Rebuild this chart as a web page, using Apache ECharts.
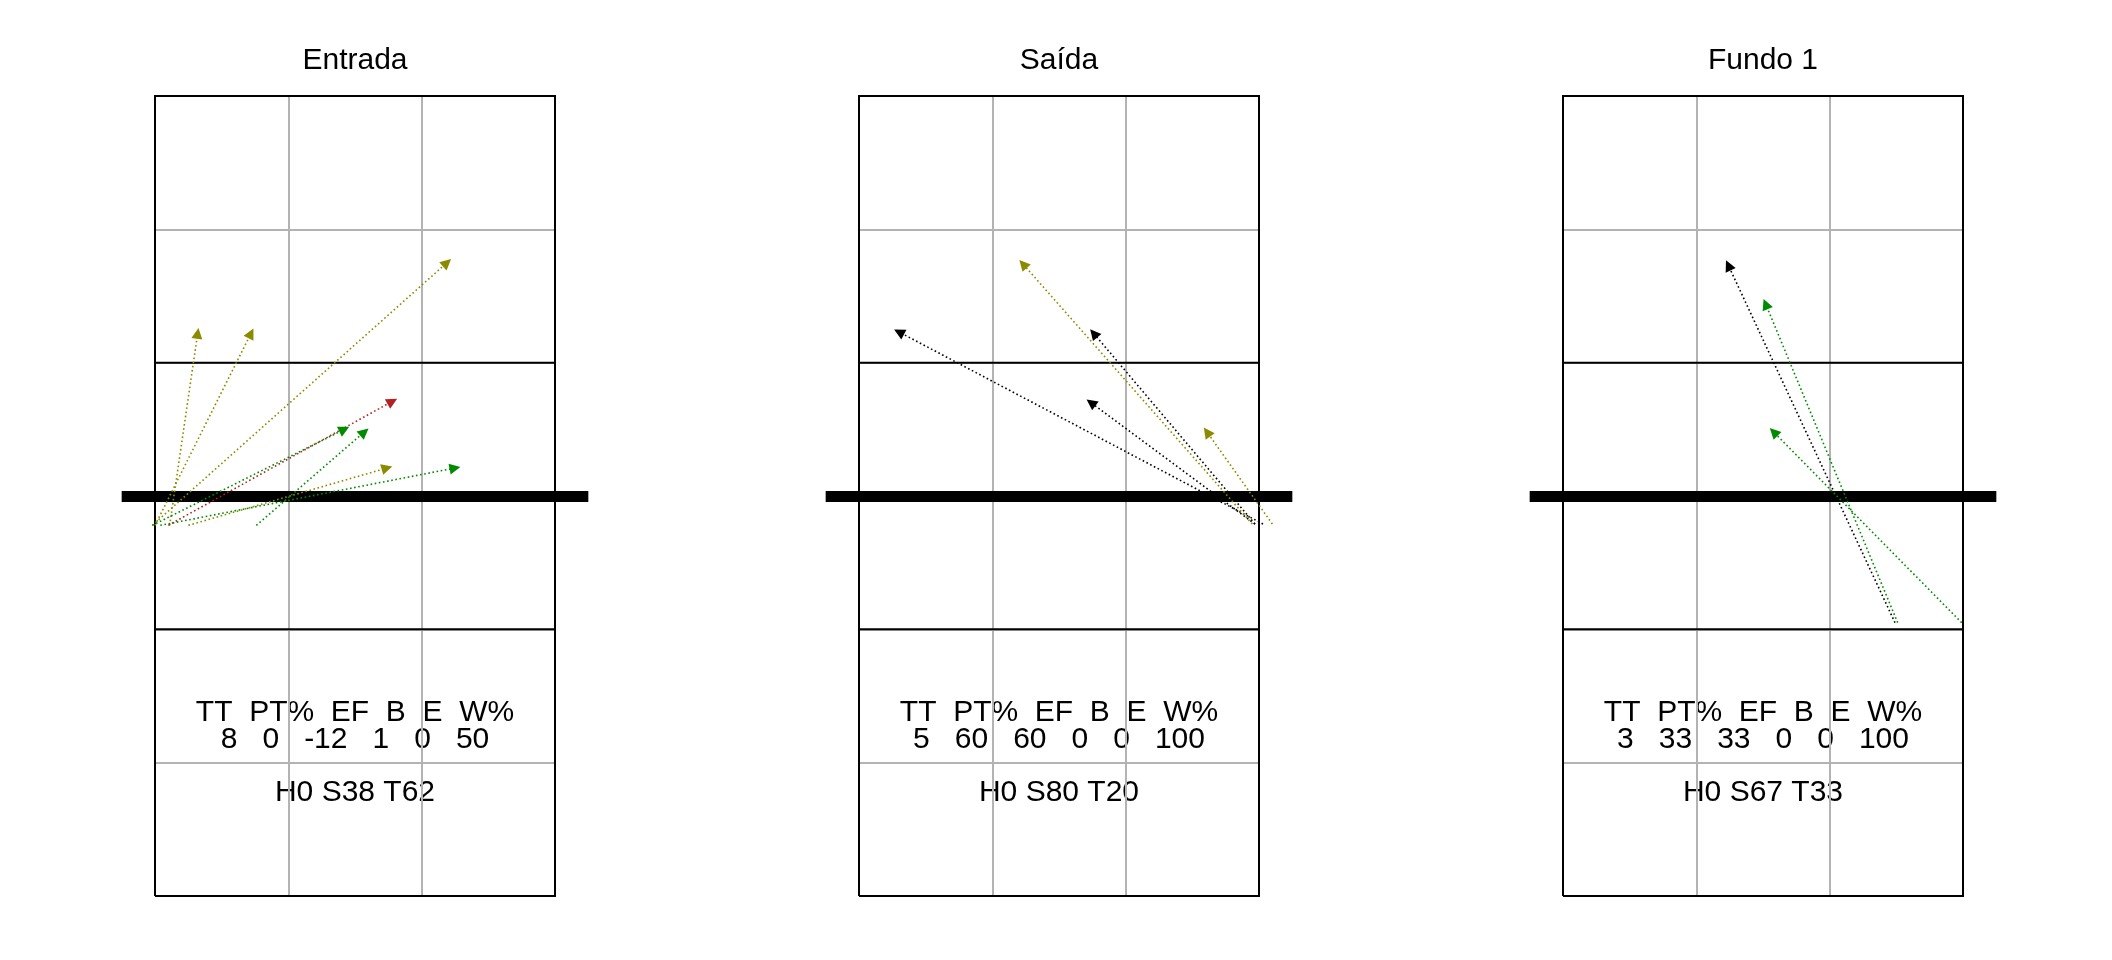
<!DOCTYPE html>
<html><head><meta charset="utf-8">
<script src="https://cdn.jsdelivr.net/npm/echarts@6/dist/echarts.min.js"></script>
<style>html,body{margin:0;padding:0;background:#fff}#c{width:2112px;height:960px}</style>
</head><body><div id="c"></div>
<script>
// ---------- data ----------
const panelTitles = ['Entrada', 'Saída', 'Fundo 1'];
const statHeaders = ['TT', 'PT%', 'EF', 'B', 'E', 'W%'];
const zoneLabels = ['H', 'S', 'T'];

const entradaStats = [8, 0, -12, 1, 0, 50];
const saidaStats = [5, 60, 60, 0, 0, 100];
const fundoStats = [3, 33, 33, 0, 0, 100];

const entradaZones = [0, 38, 62];
const saidaZones = [0, 80, 20];
const fundoZones = [0, 67, 33];

// attack trajectories (court units: x 0..3, y 0..6, net at 3)
const entradaFromX = [0.11, 0.00, -0.02, 0.10, -0.02, 0.76, 0.25, 0.04];
const entradaFromY = [2.78, 2.78, 2.78, 2.78, 2.78, 2.78, 2.78, 2.78];
const entradaToX   = [0.32, 0.72, 2.19, 1.78, 1.42, 1.57, 1.74, 2.25];
const entradaToY   = [4.22, 4.22, 4.75, 3.71, 3.50, 3.48, 3.21, 3.21];
const entradaOutcome = ['cont', 'cont', 'cont', 'blocked', 'good', 'good', 'cont', 'good'];

const saidaFromX = [3.03, 2.97, 2.97, 2.95, 3.10];
const saidaFromY = [2.79, 2.79, 2.79, 2.79, 2.79];
const saidaToX   = [0.30, 1.74, 1.76, 1.23, 2.61];
const saidaToY   = [4.23, 3.70, 4.22, 4.74, 3.48];
const saidaOutcome = ['kill', 'kill', 'kill', 'cont', 'cont'];

const fundoFromX = [2.49, 2.51, 2.99];
const fundoFromY = [2.05, 2.05, 2.05];
const fundoToX   = [1.24, 1.52, 1.58];
const fundoToY   = [4.73, 4.44, 3.48];
const fundoOutcome = ['kill', 'good', 'good'];

// ---------- styling ----------
const outcomeColor = { kill: '#000000', blocked: '#B22222', good: '#008B00', cont: '#8B8B00' };
const FONT = 'Liberation Sans, Arial, sans-serif';
const gridLefts = [155, 859, 1563];
const GRID_TOP = 96, GRID_W = 400, GRID_H = 800;

const panels = [
  { title: panelTitles[0], stats: entradaStats, zones: entradaZones, fx: entradaFromX, fy: entradaFromY, tx: entradaToX, ty: entradaToY, oc: entradaOutcome },
  { title: panelTitles[1], stats: saidaStats, zones: saidaZones, fx: saidaFromX, fy: saidaFromY, tx: saidaToX, ty: saidaToY, oc: saidaOutcome },
  { title: panelTitles[2], stats: fundoStats, zones: fundoZones, fx: fundoFromX, fy: fundoFromY, tx: fundoToX, ty: fundoToY, oc: fundoOutcome }
];

const grids = [], xAxes = [], yAxes = [], series = [], graphics = [];
const axisCommon = {
  type: 'value', interval: 1,
  axisLine: { show: false }, axisTick: { show: false }, axisLabel: { show: false },
  splitLine: { show: true, lineStyle: { color: '#b3b3b3', width: 2 } }
};

panels.forEach((p, i) => {
  grids.push({ left: gridLefts[i], top: GRID_TOP, width: GRID_W, height: GRID_H, containLabel: false });
  xAxes.push(Object.assign({ gridIndex: i, min: 0, max: 3 }, axisCommon));
  yAxes.push(Object.assign({ gridIndex: i, min: 0, max: 6 }, axisCommon));

  // court outline + attack lines
  series.push({
    type: 'lines', coordinateSystem: 'cartesian2d', xAxisIndex: i, yAxisIndex: i,
    polyline: true, silent: true, clip: false, z: 2,
    lineStyle: { color: '#000', width: 2, opacity: 1, join: 'miter' },
    data: [
      { coords: [[0, 0], [3, 0], [3, 6], [0, 6], [0, 0]] },
      { coords: [[0, 2], [3, 2]] },
      { coords: [[0, 4], [3, 4]] }
    ]
  });
  // net
  series.push({
    type: 'lines', coordinateSystem: 'cartesian2d', xAxisIndex: i, yAxisIndex: i,
    silent: true, clip: false, z: 3,
    lineStyle: { color: '#000', width: 11, opacity: 1, cap: 'butt' },
    data: [{ coords: [[-0.25, 3], [3.25, 3]] }]
  });
  // attack arrows
  series.push({
    type: 'lines', coordinateSystem: 'cartesian2d', xAxisIndex: i, yAxisIndex: i,
    clip: false, z: 5,
    symbol: ['none', 'triangle'], symbolSize: 11,
    lineStyle: { width: 1.6, type: [1.6, 2.6], opacity: 1 },
    data: p.fx.map((x, k) => ({
      coords: [[x, p.fy[k]], [p.tx[k], p.ty[k]]],
      lineStyle: { color: outcomeColor[p.oc[k]] },
      itemStyle: { color: outcomeColor[p.oc[k]] }
    }))
  });

  const cx = gridLefts[i] + GRID_W / 2;
  const txt = (text, y) => ({
    type: 'text', x: cx, y: y, silent: true,
    style: { text: text, fontSize: 30, fontFamily: FONT, fill: '#000', align: 'center', verticalAlign: 'middle' }
  });
  graphics.push(txt(p.title, 61));
  graphics.push(txt(statHeaders.join('  '), 713));
  graphics.push(txt(p.stats.join('   '), 740));
  graphics.push(txt(zoneLabels.map((z, k) => z + p.zones[k]).join(' '), 793));
});

const chart = echarts.init(document.getElementById('c'), null, { renderer: 'canvas' });
chart.setOption({
  animation: false,
  backgroundColor: '#ffffff',
  grid: grids, xAxis: xAxes, yAxis: yAxes,
  series: series,
  graphic: graphics
});
</script>
</body></html>
